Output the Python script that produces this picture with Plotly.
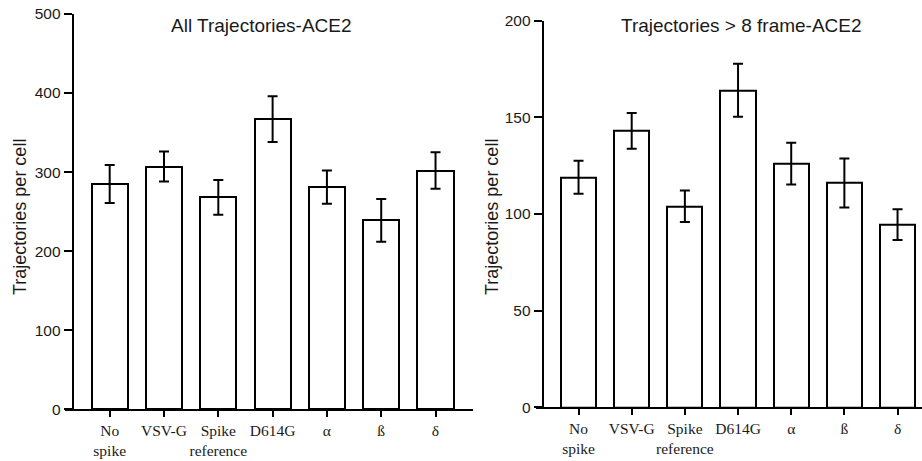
import plotly.graph_objects as go

categories = ["No<br>spike", "VSV-G", "Spike<br>reference", "D614G", "α", "ß", "δ"]
all_values = [285, 307, 268, 367, 281, 239, 302]
all_errors = [24, 19, 22, 29, 21, 27, 23]
long_values = [119, 143, 104, 164, 126, 116, 94.5]
long_errors = [8.5, 9.2, 8.2, 13.7, 10.8, 12.7, 8.0]
left_title = "All Trajectories-ACE2"
right_title = "Trajectories > 8 frame-ACE2"
y_title = "Trajectories per cell"

W, H = 922, 461
pos = list(range(len(categories)))

fig = go.Figure()
fig.add_trace(go.Bar(
    x=pos, y=all_values, width=0.665, xaxis="x", yaxis="y",
    marker=dict(color="white", line=dict(color="black", width=2)),
    error_y=dict(type="data", array=all_errors, color="black", thickness=2, width=5),
    showlegend=False))
fig.add_trace(go.Bar(
    x=pos, y=long_values, width=0.66, xaxis="x2", yaxis="y2",
    marker=dict(color="white", line=dict(color="black", width=2)),
    error_y=dict(type="data", array=long_errors, color="black", thickness=2, width=5),
    showlegend=False))

tickfont_y = dict(family="Liberation Sans, Arial", size=15.5, color="#1a1a1a")
tickfont_x = dict(family="Liberation Serif, Times New Roman", size=15.5, color="#1a1a1a")

common_x = dict(showline=True, linecolor="black", linewidth=2, ticks="outside",
                ticklen=6, tickwidth=2, tickcolor="black", showgrid=False,
                zeroline=False, tickvals=pos, ticktext=categories, tickfont=tickfont_x,
                tickangle=0, automargin=False)
common_y = dict(showline=True, linecolor="black", linewidth=2, ticks="outside",
                ticklen=8, tickwidth=2, tickcolor="black", showgrid=False,
                zeroline=False, tickfont=tickfont_y, anchor="free", automargin=False)

fig.update_layout(
    template="none",
    width=W, height=H, margin=dict(l=0, r=0, t=0, b=0, autoexpand=False),
    paper_bgcolor="white", plot_bgcolor="white", bargap=0,
    xaxis=dict(domain=[65 / W, 473 / W], range=[-0.823, 6.69], anchor="y", **common_x),
    yaxis=dict(domain=[1 - 409.3 / H, 1 - 14 / H], range=[0, 500],
               tickvals=[0, 100, 200, 300, 400, 500], position=72.7 / W, **common_y),
    xaxis2=dict(domain=[536 / W, 1.0], range=[-0.80, 6.46], anchor="y2", **common_x),
    yaxis2=dict(domain=[1 - 407.3 / H, 1 - 20.7 / H], range=[0, 200],
                tickvals=[0, 50, 100, 150, 200], position=542.7 / W, **common_y),
)

title_font = dict(family="Liberation Sans, Arial", size=19, color="#1a1a1a")
ytitle_font = dict(family="Liberation Sans, Arial", size=18, color="#1a1a1a")
fig.add_annotation(text=left_title, x=261.5 / W, y=1 - 25 / H, xref="paper", yref="paper",
                   showarrow=False, font=title_font, xanchor="center", yanchor="middle")
fig.add_annotation(text=right_title, x=741.7 / W, y=1 - 25 / H, xref="paper", yref="paper",
                   showarrow=False, font=title_font, xanchor="center", yanchor="middle")
fig.add_annotation(text=y_title, x=20 / W, y=1 - 217 / H, xref="paper", yref="paper",
                   showarrow=False, font=ytitle_font, textangle=-90,
                   xanchor="center", yanchor="middle")
fig.add_annotation(text=y_title, x=492 / W, y=1 - 217 / H, xref="paper", yref="paper",
                   showarrow=False, font=ytitle_font, textangle=-90,
                   xanchor="center", yanchor="middle")

fig.write_html("out.html")
